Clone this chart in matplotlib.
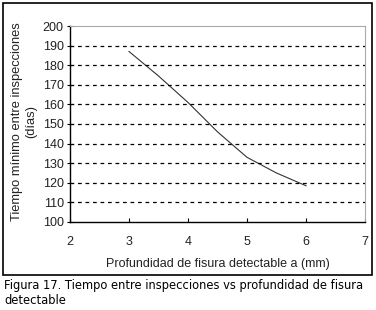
import numpy as np
import matplotlib.pyplot as plt
from matplotlib.patches import Rectangle

# profundidad de fisura detectable (mm) vs tiempo minimo (dias)
prof = [3.0, 3.5, 4.0, 4.5, 5.0, 5.5, 6.0]
tiempo = [187, 174.5, 161, 146, 133, 125, 118.5]

xticks = [2, 3, 4, 5, 6, 7]
yticks = [100, 110, 120, 130, 140, 150, 160, 170, 180, 190, 200]

fig = plt.figure(figsize=(3.76, 3.10), dpi=100)
W, H = 376.0, 310.0

# marco negro de la figura
fig.patches.append(Rectangle((3 / W, 1 - 275 / H), 369 / W, 272 / H,
                             transform=fig.transFigure, fill=False,
                             edgecolor='black', linewidth=1.2))

ax = fig.add_axes([70 / W, 1 - 222 / H, 295 / W, 196 / H])
ax.plot(prof, tiempo, color='#333333', linewidth=0.8)

ax.set_xlim(2, 7)
ax.set_ylim(100, 200)
ax.set_xticks(xticks)
ax.set_yticks(yticks)
for y in yticks[1:-1]:
    ax.axhline(y, color='black', linestyle=(0, (3, 3)), linewidth=0.9)

ax.spines['top'].set_color('#aaaaaa')
ax.spines['right'].set_color('#aaaaaa')
ax.spines['left'].set_linewidth(1.0)
ax.spines['bottom'].set_linewidth(1.0)
ax.tick_params(axis='y', direction='inout', length=5, labelsize=9, pad=2)
ax.tick_params(axis='x', direction='in', length=3, labelsize=9, pad=10)
for lab in ax.get_xticklabels() + ax.get_yticklabels():
    lab.set_family('Liberation Sans')
    lab.set_color('#222222')

ax.set_xlabel('Profundidad de fisura detectable a (mm)', fontsize=9.0,
              family='Liberation Sans', labelpad=7, color='#222222')
fig.text(24 / W, 1 - 122 / H, 'Tiempo mínimo entre inspecciones\n(días)',
         rotation=90, ha='center', va='center', fontsize=9.3,
         family='Liberation Sans', linespacing=1.3, color='#222222',
         clip_on=False)

fig.text(4 / W, 1 - 285 / H,
         'Figura 17. Tiempo entre inspecciones vs profundidad de fisura',
         fontsize=8.3, family='DejaVu Sans', va='center')
fig.text(4 / W, 1 - 300 / H, 'detectable', fontsize=8.3,
         family='DejaVu Sans', va='center')

fig.savefig('out.png', dpi=100)
